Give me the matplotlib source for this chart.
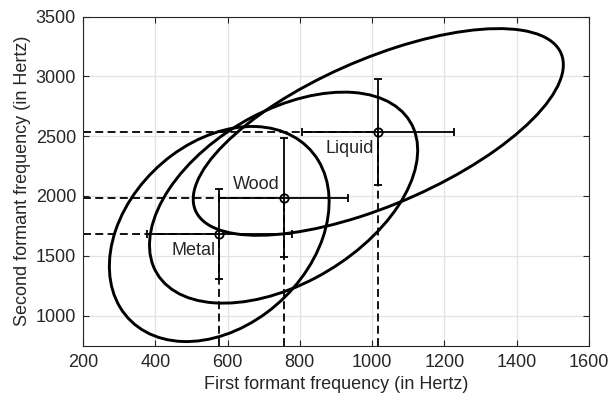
import numpy as np
import matplotlib
matplotlib.use('Agg')
import matplotlib.pyplot as plt
from matplotlib.patches import Ellipse

# class means, error bars and covariance-ellipse spreads
names = ['Metal', 'Wood', 'Liquid']
f1_mean = [577, 755, 1017]
f2_mean = [1682, 1986, 2535]
f1_err = [200, 179, 210]
f2_err = [380, 496, 443]
f1_spread = [304, 371, 512]
f2_spread = [899, 882, 864]
corr = [0.30, 0.45, 0.65]

xticks = [200, 400, 600, 800, 1000, 1200, 1400, 1600]
yticks = [1000, 1500, 2000, 2500, 3000, 3500]

plt.rcParams['font.family'] = ['Liberation Sans', 'DejaVu Sans']
txt = '#262626'

fig = plt.figure(figsize=(6.11, 3.96), dpi=100)
ax = fig.add_axes([0.1358, 0.1275, 0.8282, 0.8308])
ax.set_xlim(200, 1600)
ax.set_ylim(750, 3500)

# grid
ax.grid(True, color='#e3e3e3', linewidth=0.9)
ax.set_axisbelow(True)

# ellipses
for cx, cy, sx, sy, r in zip(f1_mean, f2_mean, f1_spread, f2_spread, corr):
    cov = np.array([[sx**2, r*sx*sy], [r*sx*sy, sy**2]])
    vals, vecs = np.linalg.eigh(cov)
    ang = np.degrees(np.arctan2(vecs[1, 1], vecs[0, 1]))
    e = Ellipse((cx, cy), 2*np.sqrt(vals[1]), 2*np.sqrt(vals[0]), angle=ang,
                fill=False, edgecolor='black', linewidth=2.1, zorder=3)
    ax.add_patch(e)

# dashed guide lines from the axes to the means
x0, y0 = ax.get_xlim()[0], ax.get_ylim()[0]
for cx, cy in zip(f1_mean, f2_mean):
    ax.plot([x0, cx], [cy, cy], color='black', linewidth=1.3,
            linestyle=(0, (4.4, 2.4)), zorder=2)
    ax.plot([cx, cx], [y0, cy], color='black', linewidth=1.3,
            linestyle=(0, (4.4, 2.4)), zorder=2)

# error bars
ax.errorbar(f1_mean, f2_mean, xerr=f1_err, yerr=f2_err, fmt='o', color='black',
            mfc='none', mec='black', ms=6, mew=1.3, elinewidth=1.3,
            capsize=2.6, capthick=1.3, zorder=4)

# labels
offsets = [(-4, -16), (-4, 13), (-4, -17)]
for n, cx, cy, off in zip(names, f1_mean, f2_mean, offsets):
    ax.annotate(n, (cx, cy), xytext=off, textcoords='offset pixels',
                ha='right', va='center', fontsize=13, color=txt)

ax.set_xticks(xticks)
ax.set_yticks(yticks)
ax.tick_params(direction='in', top=True, right=True, length=4, width=0.8,
               colors=txt, labelsize=13)
ax.tick_params(axis='x', pad=6)
ax.tick_params(axis='y', pad=5)
for s in ax.spines.values():
    s.set_color(txt)
    s.set_linewidth(0.8)

ax.set_xlabel('First formant frequency (in Hertz)', fontsize=13, color=txt, labelpad=4)
ax.set_ylabel('Second formant frequency (in Hertz)', fontsize=13, color=txt, labelpad=3)

fig.savefig('out.png', dpi=100)
